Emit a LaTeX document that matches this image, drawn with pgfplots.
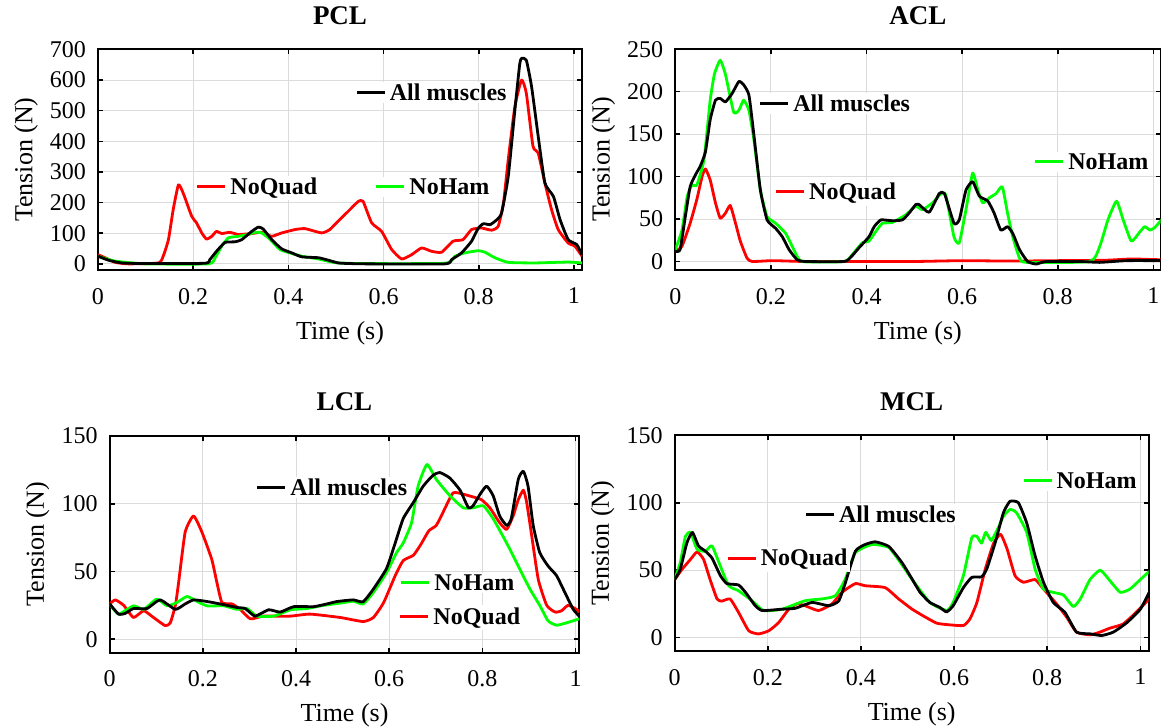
\documentclass[border=0pt]{standalone}
\usepackage{fontspec}
\setmainfont{Liberation Serif}
\usepackage{pgfplots}
\pgfplotsset{compat=1.18}
\definecolor{pred}{RGB}{255,0,0}
\definecolor{pgreen}{RGB}{0,255,0}
\newcommand{\legitem}[2]{{\color{#1}\rule[\dimexpr0.33em-0.75pt\relax]{14pt}{1.5pt}}\hspace{2.5pt}\textbf{#2}}
\tikzset{legnode/.style={fill=white, inner sep=1pt, anchor=base west, yshift=-4pt, font=\fontsize{12}{14}\selectfont}}
\pgfplotsset{
  myax/.style={
    scale only axis, anchor=south west, xmin=0,
    tick align=inside, major tick length=2.5pt,
    every tick/.style={black, line width=0.8pt},
    axis line style={line width=1pt},
    grid=major, major grid style={line width=0.5pt, black!14},
    xtick={0,0.2,0.4,0.6,0.8,1},
    /pgf/number format/assume math mode=true,
    tick label style={font=\fontsize{12}{14}\selectfont},
    x tick label style={yshift=-5.5pt},
    y tick label style={xshift=-2.5pt},
    label style={font=\fontsize{13}{15}\selectfont},
    xlabel={Time (s)}, ylabel={Tension (N)},
    xlabel style={at={([yshift=-31.5pt]axis description cs:0.5,0)}, anchor=center},
    ylabel style={at={([xshift=-36pt]axis description cs:0,0.5)}, anchor=center},
    title style={at={([yshift=11pt]axis description cs:0.5,1)}, anchor=center, font=\bfseries\fontsize{13.5}{15}\selectfont},
    clip mode=individual,
    every axis plot/.append style={line width=1.4pt, line join=round, smooth, tension=0.3},
  },
}
\begin{document}
\begin{tikzpicture}
\useasboundingbox (0,0) rectangle (580.5pt,-363.5pt);
% ---------------- PCL ----------------
\begin{axis}[myax, at={(49pt,-135pt)}, width=242pt, height=110.3pt,
  xmax=1.017, ymin=-20, ymax=700, ytick={0,100,...,700}, title={PCL}]
\addplot[pred] coordinates {(0,30)(0.015,20)(0.036,5)(0.064,0)(0.127,3)(0.137,25)(0.148,79)(0.158,177)(0.169,258)(0.179,231)(0.197,155)(0.207,134)(0.218,101)(0.228,81)(0.239,90)(0.249,106)(0.26,99)(0.277,103)(0.295,96)(0.323,99)(0.344,103)(0.365,90)(0.386,101)(0.414,112)(0.435,115)(0.47,101)(0.487,112)(0.505,140)(0.526,172)(0.547,204)(0.557,204)(0.575,134)(0.596,106)(0.617,47)(0.638,16)(0.659,30)(0.68,52)(0.701,41)(0.722,38)(0.746,74)(0.767,79)(0.785,112)(0.806,117)(0.827,110)(0.841,123)(0.852,199)(0.862,340)(0.876,514)(0.89,600)(0.9,557)(0.914,384)(0.925,362)(0.939,264)(0.953,177)(0.967,112)(0.988,68)(1.002,58)(1.017,25)};
\addplot[pgreen] coordinates {(0,25)(0.036,9)(0.1,0)(0.232,0)(0.246,20)(0.26,58)(0.274,85)(0.295,90)(0.316,96)(0.33,103)(0.344,101)(0.361,81)(0.382,47)(0.407,34)(0.428,25)(0.463,16)(0.498,4)(0.55,1)(0.729,2)(0.75,25)(0.771,36)(0.799,43)(0.813,38)(0.834,20)(0.862,5)(0.918,3)(0.988,6)(1.017,3)};
\addplot[black] coordinates {(0,25)(0.022,12)(0.05,3)(0.1,1)(0.225,2)(0.235,14)(0.249,41)(0.267,70)(0.288,72)(0.302,79)(0.323,106)(0.337,120)(0.347,114)(0.365,79)(0.386,49)(0.407,36)(0.428,23)(0.463,20)(0.484,12)(0.505,3)(0.53,1)(0.568,0)(0.729,0)(0.743,14)(0.764,36)(0.785,74)(0.799,117)(0.81,131)(0.824,128)(0.838,144)(0.848,166)(0.862,285)(0.876,503)(0.886,650)(0.89,671)(0.9,665)(0.911,579)(0.925,416)(0.939,264)(0.957,220)(0.971,144)(0.988,79)(1.006,63)(1.017,30)};
\node[legnode] at (axis cs:0.539,560) {\legitem{black}{All muscles}};
\node[legnode] at (axis cs:0.204,253) {\legitem{pred}{NoQuad}};
\node[legnode] at (axis cs:0.580,253) {\legitem{pgreen}{NoHam}};
\end{axis}
% ---------------- ACL ----------------
\begin{axis}[myax, at={(337.65pt,-135pt)}, width=242.6pt, height=110.4pt,
  xmax=1.015, ymin=-10, ymax=250, ytick={0,50,...,250}, title={ACL}]
\addplot[pred] coordinates {(0,12)(0.014,18)(0.031,45)(0.045,73)(0.056,100)(0.063,109)(0.073,96)(0.084,69)(0.094,51)(0.105,57)(0.115,66)(0.126,45)(0.136,24)(0.15,4)(0.161,0)(0.203,1)(0.273,0)(0.4,0)(0.5,0)(0.6,1)(0.7,0.5)(0.8,1)(0.9,1.5)(0.955,3)(1.017,2)};
\addplot[pgreen] coordinates {(0,14)(0.014,37)(0.025,77)(0.035,90)(0.045,90)(0.06,120)(0.073,190)(0.082,221)(0.094,237)(0.105,220)(0.122,176)(0.133,178)(0.143,190)(0.154,178)(0.164,145)(0.178,84)(0.192,53)(0.21,45)(0.231,33)(0.248,14)(0.265,0)(0.353,0)(0.37,8)(0.391,22)(0.405,24)(0.419,35)(0.433,45)(0.454,46)(0.482,55)(0.503,65)(0.517,61)(0.538,69)(0.556,80)(0.566,78)(0.583,29)(0.594,22)(0.608,61)(0.622,104)(0.633,84)(0.643,69)(0.657,75)(0.671,80)(0.684,88)(0.695,57)(0.706,29)(0.72,4)(0.734,-1)(0.867,0)(0.888,18)(0.905,49)(0.923,71)(0.937,49)(0.954,24)(0.972,35)(0.982,41)(0.993,37)(1.003,40)(1.017,49)};
\addplot[black] coordinates {(0,12)(0.01,14)(0.021,53)(0.031,88)(0.042,102)(0.052,112)(0.063,129)(0.073,167)(0.084,190)(0.094,192)(0.105,188)(0.119,198)(0.133,212)(0.143,208)(0.154,196)(0.164,151)(0.178,84)(0.192,49)(0.21,39)(0.224,29)(0.238,14)(0.255,2)(0.273,0)(0.353,0)(0.367,5)(0.384,16)(0.405,29)(0.416,41)(0.43,49)(0.454,48)(0.475,49)(0.489,57)(0.503,67)(0.51,67)(0.531,58)(0.552,80)(0.563,80)(0.583,45)(0.594,49)(0.608,84)(0.622,94)(0.636,77)(0.654,71)(0.667,57)(0.681,37)(0.695,41)(0.706,33)(0.72,14)(0.737,0)(0.755,-3)(0.776,0)(0.846,0)(0.888,-1)(0.944,1)(1.017,1)};
\node[legnode] at (axis cs:0.173,186) {\legitem{black}{All muscles}};
\node[legnode] at (axis cs:0.206,82) {\legitem{pred}{NoQuad}};
\node[legnode] at (axis cs:0.748,118) {\legitem{pgreen}{NoHam}};
\end{axis}
% ---------------- LCL ----------------
\begin{axis}[myax, at={(54.85pt,-326.35pt)}, width=234.8pt, height=108.35pt,
  xmax=1.008, ymin=-10, ymax=150, ytick={0,50,100,150}, title={LCL}]
\addplot[pred] coordinates {(0,26)(0.012,29)(0.03,25)(0.051,16)(0.073,21)(0.094,16)(0.119,10)(0.13,12)(0.141,25)(0.148,42)(0.162,79)(0.18,91)(0.198,79)(0.219,59)(0.23,42)(0.241,27)(0.263,26)(0.28,22)(0.302,15)(0.33,17)(0.387,17)(0.43,18.5)(0.495,16)(0.544,13)(0.566,16)(0.588,27)(0.613,47)(0.63,58)(0.652,62)(0.668,70)(0.685,80)(0.701,84)(0.716,94)(0.737,108)(0.759,107)(0.78,105)(0.798,103)(0.816,97)(0.837,86)(0.852,81)(0.866,91)(0.877,103)(0.888,110)(0.895,101)(0.906,76)(0.92,44)(0.938,25)(0.956,20)(0.97,21)(0.984,25)(1.002,22)(1.008,20)};
\addplot[pgreen] coordinates {(0,26)(0.019,18.5)(0.051,24.6)(0.073,22)(0.101,29.6)(0.123,24.6)(0.144,27)(0.166,31.5)(0.187,28)(0.209,24.6)(0.245,24.6)(0.273,22)(0.295,22.6)(0.316,17)(0.352,17)(0.388,21.7)(0.423,22.6)(0.459,25)(0.495,26.6)(0.523,28)(0.544,26)(0.566,34.5)(0.594,49)(0.616,64)(0.63,71)(0.648,86)(0.662,113)(0.681,129)(0.701,118)(0.73,106)(0.759,97)(0.78,97)(0.802,98.5)(0.823,89)(0.852,71)(0.88,52)(0.902,37)(0.923,25)(0.941,13.5)(0.959,10.3)(0.98,12)(1.008,15)};
\addplot[black] coordinates {(0,26)(0.019,18.5)(0.033,19)(0.051,22.6)(0.08,22.6)(0.108,29)(0.141,22)(0.162,26)(0.18,29)(0.209,27.8)(0.237,26)(0.273,23.4)(0.291,22.6)(0.312,17)(0.341,21.7)(0.366,20)(0.395,24)(0.438,24)(0.466,26)(0.488,27.8)(0.523,29)(0.544,27.6)(0.566,37)(0.594,52)(0.611,69)(0.63,89)(0.652,101)(0.673,113)(0.694,121)(0.709,123)(0.73,119)(0.752,110)(0.77,97)(0.78,98.5)(0.795,107)(0.809,113)(0.823,106)(0.837,91)(0.852,84)(0.862,89)(0.877,118)(0.888,124)(0.898,113)(0.909,84)(0.923,64)(0.941,54)(0.959,47)(0.977,34.5)(0.995,22)(1.008,17)};
\node[legnode] at (axis cs:0.312,112) {\legitem{black}{All muscles}};
\node[legnode] at (axis cs:0.621,42) {\legitem{pgreen}{NoHam}};
\node[legnode] at (axis cs:0.619,17) {\legitem{pred}{NoQuad}};
\end{axis}
% ---------------- MCL ----------------
\begin{axis}[myax, at={(337.35pt,-325.5pt)}, width=237pt, height=107.85pt,
  xmax=1.018, ymin=-10, ymax=150, ytick={0,50,100,150}, title={MCL}]
\addplot[pred] coordinates {(0,43)(0.016,50.7)(0.034,58)(0.048,63.5)(0.062,58)(0.076,43)(0.091,28.6)(0.101,27)(0.119,28.6)(0.137,18.7)(0.159,5)(0.18,2.7)(0.202,5)(0.223,11)(0.245,21)(0.263,25)(0.28,23.6)(0.309,20)(0.338,25)(0.359,33.5)(0.388,40)(0.409,38.4)(0.452,37)(0.481,28.6)(0.51,21)(0.534,16)(0.563,10.6)(0.591,9.4)(0.62,8.9)(0.634,13.8)(0.649,26)(0.667,50.7)(0.685,70)(0.7,76.6)(0.714,65.5)(0.731,45.8)(0.749,41)(0.774,43)(0.792,36)(0.82,25)(0.842,15)(0.863,4)(0.892,2)(0.913,4)(0.935,7)(0.963,10)(0.991,18.7)(1.019,28.6)};
\addplot[pgreen] coordinates {(0,43)(0.012,55.6)(0.023,75)(0.034,78)(0.048,65.5)(0.066,64)(0.08,68)(0.098,53)(0.116,38.4)(0.137,34.7)(0.166,27.3)(0.191,20)(0.23,21)(0.28,27.3)(0.316,28.6)(0.345,31)(0.366,43)(0.388,63)(0.424,69)(0.46,66.7)(0.488,54)(0.51,43)(0.548,26)(0.584,20)(0.598,26)(0.62,46)(0.638,74)(0.649,75)(0.659,70)(0.668,78)(0.68,72)(0.695,81.5)(0.706,90)(0.72,95)(0.734,92.6)(0.756,78)(0.774,50.7)(0.792,36)(0.813,33.5)(0.835,31.5)(0.856,23)(0.871,28.6)(0.892,43)(0.914,50)(0.935,42)(0.957,33.5)(0.978,36)(1.0,43)(1.019,49)};
\addplot[black] coordinates {(0,43)(0.012,50.7)(0.026,70)(0.038,78)(0.051,68)(0.066,64)(0.08,59)(0.098,46)(0.112,40)(0.137,39)(0.152,33.5)(0.173,23.6)(0.188,20)(0.23,21)(0.259,21.7)(0.295,26)(0.331,23.6)(0.352,27)(0.366,40)(0.388,64)(0.409,69)(0.431,71)(0.46,67.5)(0.488,55.6)(0.507,45)(0.527,33.5)(0.548,26)(0.569,22.4)(0.584,19)(0.598,23.6)(0.62,37)(0.638,44.6)(0.659,45)(0.67,50.7)(0.688,70)(0.706,92.6)(0.72,101)(0.738,100)(0.756,85)(0.774,60.6)(0.792,41)(0.813,26)(0.838,18.7)(0.863,4)(0.892,2.7)(0.917,1.5)(0.942,4)(0.971,11)(1.0,21)(1.019,33.5)};
\node[legnode] at (axis cs:0.277,91) {\legitem{black}{All muscles}};
\node[legnode] at (axis cs:0.109,59) {\legitem{pred}{NoQuad}};
\node[legnode] at (axis cs:0.744,116.5) {\legitem{pgreen}{NoHam}};
\end{axis}
\end{tikzpicture}
\end{document}
